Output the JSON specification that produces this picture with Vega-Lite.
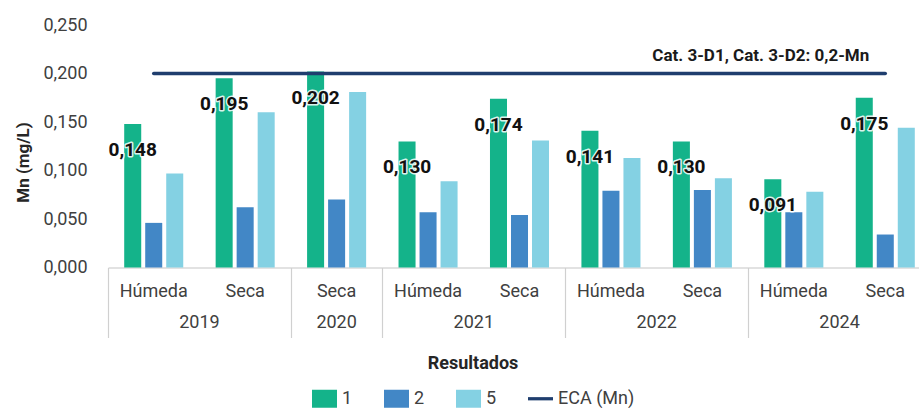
{
  "$schema": "https://vega.github.io/schema/vega-lite/v6.json",
  "width": 811,
  "height": 242.5,
  "autosize": "none",
  "padding": {"left": 108, "top": 25, "right": 0, "bottom": 140.5},
  "config": {
    "font": "Roboto",
    "view": {"stroke": null},
    "locale": {"number": {"decimal": ",", "thousands": ".", "grouping": [3], "currency": ["", ""]}},
    "axis": {"labelFont": "Roboto", "titleFont": "Roboto"},
    "legend": {"labelFont": "Roboto", "titleFont": "Roboto"},
    "text": {"font": "Roboto"}
  },
  "datasets": {
    "mn": [
      {"cat": "2019 Húmeda", "serie": "1", "v": 0.148},
      {"cat": "2019 Húmeda", "serie": "2", "v": 0.046},
      {"cat": "2019 Húmeda", "serie": "5", "v": 0.097},
      {"cat": "2019 Seca", "serie": "1", "v": 0.195},
      {"cat": "2019 Seca", "serie": "2", "v": 0.062},
      {"cat": "2019 Seca", "serie": "5", "v": 0.160},
      {"cat": "2020 Seca", "serie": "1", "v": 0.202},
      {"cat": "2020 Seca", "serie": "2", "v": 0.070},
      {"cat": "2020 Seca", "serie": "5", "v": 0.181},
      {"cat": "2021 Húmeda", "serie": "1", "v": 0.130},
      {"cat": "2021 Húmeda", "serie": "2", "v": 0.057},
      {"cat": "2021 Húmeda", "serie": "5", "v": 0.089},
      {"cat": "2021 Seca", "serie": "1", "v": 0.174},
      {"cat": "2021 Seca", "serie": "2", "v": 0.054},
      {"cat": "2021 Seca", "serie": "5", "v": 0.131},
      {"cat": "2022 Húmeda", "serie": "1", "v": 0.141},
      {"cat": "2022 Húmeda", "serie": "2", "v": 0.079},
      {"cat": "2022 Húmeda", "serie": "5", "v": 0.113},
      {"cat": "2022 Seca", "serie": "1", "v": 0.130},
      {"cat": "2022 Seca", "serie": "2", "v": 0.080},
      {"cat": "2022 Seca", "serie": "5", "v": 0.092},
      {"cat": "2024 Húmeda", "serie": "1", "v": 0.091},
      {"cat": "2024 Húmeda", "serie": "2", "v": 0.057},
      {"cat": "2024 Húmeda", "serie": "5", "v": 0.078},
      {"cat": "2024 Seca", "serie": "1", "v": 0.175},
      {"cat": "2024 Seca", "serie": "2", "v": 0.034},
      {"cat": "2024 Seca", "serie": "5", "v": 0.144}
    ],
    "eca": [
      {"cat": "2019 Húmeda", "eca": 0.2},
      {"cat": "2019 Seca", "eca": 0.2},
      {"cat": "2020 Seca", "eca": 0.2},
      {"cat": "2021 Húmeda", "eca": 0.2},
      {"cat": "2021 Seca", "eca": 0.2},
      {"cat": "2022 Húmeda", "eca": 0.2},
      {"cat": "2022 Seca", "eca": 0.2},
      {"cat": "2024 Húmeda", "eca": 0.2},
      {"cat": "2024 Seca", "eca": 0.2}
    ],
    "ecaLabel": [
      {"cat": "2024 Seca", "eca": 0.2, "txt": "Cat. 3-D1, Cat. 3-D2: 0,2-Mn"}
    ],
    "years": [
      {"pos": 1, "year": "2019"},
      {"pos": 2.5, "year": "2020"},
      {"pos": 4, "year": "2021"},
      {"pos": 6, "year": "2022"},
      {"pos": 8, "year": "2024"}
    ]
  },
  "layer": [
    {
      "layer": [
        {
          "data": {"name": "mn"},
          "mark": {"type": "bar"},
          "encoding": {
            "x": {
              "field": "cat", "type": "nominal", "sort": null, "title": null,
              "scale": {
                "domain": ["2019 Húmeda", "2019 Seca", "2020 Seca", "2021 Húmeda", "2021 Seca", "2022 Húmeda", "2022 Seca", "2024 Húmeda", "2024 Seca"],
                "range": [0, 823], "paddingInner": 0, "paddingOuter": 0
              },
              "axis": {
                "orient": "bottom",
                "labelExpr": "split(datum.value, ' ')[1]",
                "labelAngle": 0,
                "labelFontSize": 18,
                "labelColor": "#404040",
                "labelPadding": 15,
                "ticks": false,
                "grid": false,
                "domain": true,
                "domainColor": "#d9d9d9",
                "domainWidth": 1.5
              }
            },
            "xOffset": {
              "field": "serie", "type": "nominal",
              "scale": {"domain": ["1", "2", "5"], "paddingInner": 0.19, "paddingOuter": 0.771}
            },
            "y": {
              "field": "v", "type": "quantitative",
              "scale": {"domain": [0, 0.25], "nice": false},
              "axis": {
                "values": [0, 0.05, 0.1, 0.15, 0.2, 0.25],
                "format": ".3f",
                "grid": false, "domain": false, "ticks": false,
                "labelFontSize": 18, "labelColor": "#404040", "labelPadding": 21,
                "title": "Mn (mg/L)", "titleFontSize": 17, "titleFontWeight": "bold",
                "titleColor": "#262626", "titlePadding": 10, "titleY": 137
              }
            },
            "color": {
              "field": "serie", "type": "nominal",
              "scale": {"domain": ["1", "2", "5", "ECA (Mn)"], "range": ["#14b38a", "#4287c6", "#84d1e3", "#1f3e6e"]},
              "legend": {
                "orient": "none", "legendX": 204, "legendY": 330,
                "direction": "horizontal",
                "title": "Resultados", "titleFontSize": 18, "titleFontWeight": "bold",
                "titleColor": "#262626", "titleAnchor": "middle", "titleOrient": "top", "titlePadding": 13,
                "labelFontSize": 18, "labelColor": "#404040", "labelOffset": 5,
                "columnPadding": 31, "symbolSize": 625,
                "encode": {
                  "symbols": {
                    "update": {
                      "shape": {"signal": "datum.value === 'ECA (Mn)' ? 'M-1,-0.13H1V0.13H-1Z' : 'M-1,-0.72H1V0.72H-1Z'"},
                      "fill": {"scale": "color", "field": "value"},
                      "stroke": {"value": "transparent"},
                      "strokeWidth": {"value": 0},
                      "opacity": {"value": 1}
                    }
                  }
                }
              }
            }
          }
        },
        {
          "data": {"name": "eca"},
          "mark": {"type": "line", "strokeWidth": 3.5, "strokeCap": "round"},
          "encoding": {
            "x": {"field": "cat", "type": "nominal", "sort": null},
            "y": {"field": "eca", "type": "quantitative"},
            "color": {"datum": "ECA (Mn)"}
          }
        },
        {
          "data": {"name": "mn"},
          "transform": [{"filter": "datum.serie === '1'"}],
          "mark": {"type": "text", "baseline": "middle", "dy": 26, "fontSize": 19, "fontWeight": "bold", "fill": "#111111", "stroke": "white", "strokeWidth": 3, "strokeJoin": "round", "strokeOpacity": 0.85},
          "encoding": {
            "x": {"field": "cat", "type": "nominal", "sort": null},
            "xOffset": {"field": "serie", "type": "nominal"},
            "y": {"field": "v", "type": "quantitative"},
            "text": {"field": "v", "type": "quantitative", "format": ".3f"}
          }
        },
        {
          "data": {"name": "mn"},
          "transform": [{"filter": "datum.serie === '1'"}],
          "mark": {"type": "text", "baseline": "middle", "dy": 26, "fontSize": 19, "fontWeight": "bold", "fill": "#111111"},
          "encoding": {
            "x": {"field": "cat", "type": "nominal", "sort": null},
            "xOffset": {"field": "serie", "type": "nominal"},
            "y": {"field": "v", "type": "quantitative"},
            "text": {"field": "v", "type": "quantitative", "format": ".3f"}
          }
        },
        {
          "data": {"name": "ecaLabel"},
          "mark": {"type": "text", "align": "right", "baseline": "middle", "dx": -16, "dy": -18, "fontSize": 17, "fontWeight": "bold", "fill": "#1a1a1a"},
          "encoding": {
            "x": {"field": "cat", "type": "nominal", "sort": null},
            "y": {"field": "eca", "type": "quantitative"},
            "text": {"field": "txt"}
          }
        }
      ]
    },
    {
      "data": {"name": "years"},
      "mark": {"type": "text", "baseline": "middle", "dy": 55, "fontSize": 18, "fill": "#404040"},
      "encoding": {
        "x": {
          "field": "pos", "type": "quantitative",
          "scale": {"domain": [0, 9], "range": [0, 823], "nice": false, "zero": false},
          "axis": {
            "orient": "bottom", "values": [0, 2, 3, 5, 7, 9],
            "labels": false, "domain": false, "grid": false,
            "ticks": true, "tickSize": 70, "tickColor": "#d0d0d0", "tickWidth": 1.2,
            "title": null
          }
        },
        "y": {"datum": 0, "type": "quantitative"},
        "text": {"field": "year"}
      }
    }
  ],
  "resolve": {"scale": {"x": "independent"}, "axis": {"x": "independent"}}
}
